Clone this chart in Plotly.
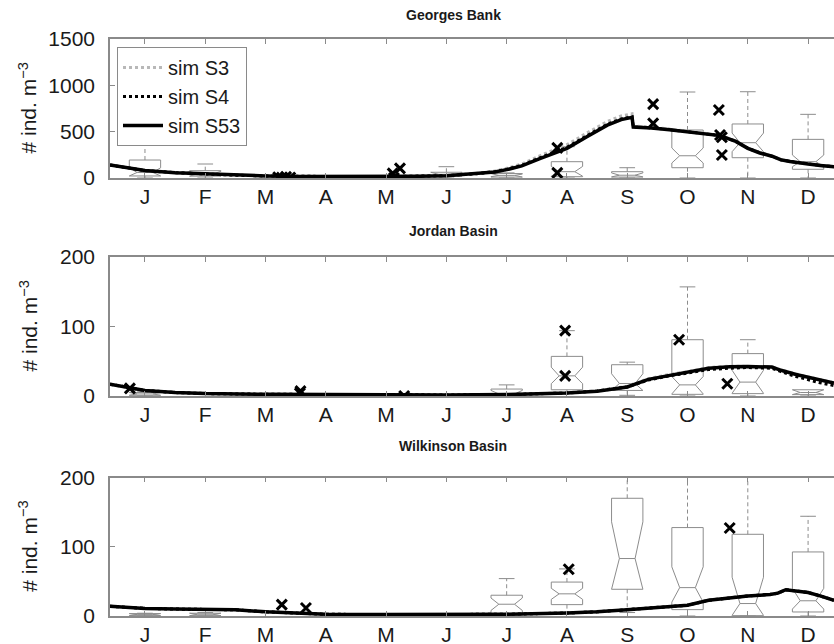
import plotly.graph_objects as go

# ---------------- data ----------------
MONTHS = ["J", "F", "M", "A", "M", "J", "J", "A", "S", "O", "N", "D"]
MONTH_POS = [1, 2, 3, 4, 5, 6, 7, 8, 9, 10, 11, 12]
PANEL_TITLES = ["Georges Bank", "Jordan Basin", "Wilkinson Basin"]
Y_MAX = [1500, 200, 200]
Y_TICKS = [[0, 500, 1000, 1500], [0, 100, 200], [0, 100, 200]]

# Georges Bank simulations (x in months)
gb_x = [0.42, 0.7, 1.0, 1.5, 2.0, 2.5, 3.0, 3.5, 4.0, 4.5, 5.0, 5.5, 6.0, 6.5, 6.8, 7.0, 7.25, 7.55, 7.8, 8.0,
        8.33, 8.67, 8.9, 9.0, 9.08, 9.1, 9.4, 9.7, 10.0, 10.3, 10.5, 10.65, 10.8, 11.0, 11.2, 11.4, 11.55, 11.7,
        11.85, 12.0, 12.2, 12.43]
gb_s3 = [140, 110, 80, 58, 43, 30, 22, 17, 15, 14, 15, 18, 26, 50, 75, 105, 150, 240, 305, 360,
         485, 610, 670, 685, 692, 560, 550, 528, 505, 485, 465, 435, 400, 325, 275, 240, 200, 182,
         163, 153, 138, 123]
gb_s4 = [140, 110, 80, 58, 43, 30, 22, 17, 15, 14, 15, 18, 25, 46, 67, 93, 135, 218, 280, 330,
         455, 580, 638, 652, 660, 552, 542, 522, 502, 482, 462, 432, 397, 322, 272, 237, 197, 180,
         162, 152, 137, 122]
gb_s53 = [140, 110, 80, 58, 43, 30, 22, 17, 15, 14, 15, 18, 25, 45, 65, 90, 130, 210, 270, 320,
          445, 570, 630, 645, 655, 550, 540, 520, 500, 480, 460, 430, 395, 320, 270, 235, 195, 178,
          160, 150, 135, 120]

# Jordan Basin simulations
jb_x = [0.42, 0.7, 1.0, 1.5, 2.0, 3.0, 4.0, 5.0, 6.0, 7.0, 7.5, 8.0, 8.5, 9.0, 9.35, 9.7, 10.0, 10.35, 10.7,
        11.0, 11.4, 11.55, 11.8, 12.0, 12.2, 12.43]
jb_s3 = [17, 13, 8, 5, 3.5, 2.5, 2, 1.5, 1.5, 2, 3, 4.5, 7.5, 14, 25, 31, 35, 41, 43, 43, 42, 37.5, 31.5,
         27.5, 23.5, 19]
jb_s4 = [17, 13, 8, 5, 3.5, 2.5, 2, 1.5, 1.5, 2, 3, 4.3, 7, 13, 23, 29, 33, 38, 40, 41, 40, 35, 28, 23, 19, 15]
jb_s53 = [17, 13, 8, 5, 3.5, 2.5, 2, 1.5, 1.5, 2, 3, 4.3, 7, 13, 24, 30, 34, 40, 42, 42.5, 41.6, 37, 31,
          27, 23, 18.6]

# Wilkinson Basin simulations
wb_x = [0.42, 1.0, 1.5, 2.0, 2.5, 3.0, 3.5, 4.0, 5.0, 6.0, 7.0, 8.0, 8.5, 9.0, 9.5, 10.0, 10.35, 10.7, 11.0,
        11.37, 11.5, 11.63, 11.8, 12.0, 12.2, 12.43]
wb_s3 = [14, 11, 10, 10, 9, 6, 4, 2.5, 2, 2, 2.5, 4.3, 6, 9.2, 12, 15.5, 22.7, 26, 29, 31, 33, 38, 36, 34,
         29, 22.7]
wb_s4 = [14, 11, 10, 10, 9, 6, 4, 2.5, 2, 2, 2.5, 4.3, 6, 9.2, 12, 15.5, 22.7, 26, 29, 31, 33, 38, 36, 34,
         29, 22.7]
wb_s53 = [14, 11, 10, 10, 9, 6, 4, 2.5, 2, 2, 2.5, 4.3, 6, 9.2, 12, 15.5, 22.7, 26, 29, 31, 33, 38, 36, 34,
          29, 22.7]

# Observed monthly box statistics
gb_box_pos = [1, 2, 6, 7, 8, 9, 10, 11, 12]
gb_q1 = [22, 20, 20, 10, 14, 10, 111, 219, 94]
gb_med = [60, 45, 40, 28, 68, 30, 240, 381, 176]
gb_q3 = [194, 79, 62, 48, 176, 68, 518, 583, 417]
gb_lo = [0, 0, 0, 0, 0, 0, 0, 0, 0]
gb_hi = [363, 151, 122, 55, 338, 111, 928, 931, 687]
gb_nlo = [22, 20, 25, 14, 20, 12, 162, 284, 122]
gb_nhi = [110, 72, 55, 42, 125, 55, 324, 485, 248]

jb_box_pos = [1, 7, 8, 9, 10, 11, 12]
jb_q1 = [1, 0.5, 9, 8, 2.4, 3.4, 2]
jb_med = [3, 3, 29, 18, 16, 20, 5]
jb_q3 = [5, 10, 57, 45, 81, 61, 9]
jb_lo = [0, 0, 4, 1, 0, 0, 0]
jb_hi = [6, 16, 94, 48.7, 157, 81, 9]
jb_nlo = [1, 0.5, 17.7, 8, 3, 4, 2]
jb_nhi = [5, 8, 41.5, 32, 28, 37, 9]

wb_box_pos = [1, 2, 7, 8, 9, 10, 11, 12]
wb_q1 = [0.5, 0.5, 1, 16.4, 38.6, 9.2, 0.5, 5.8]
wb_med = [2, 2.5, 17, 32, 83, 41, 18, 22]
wb_q3 = [3.5, 4, 30, 49, 170, 127.7, 118, 92.5]
wb_lo = [0, 0, 0, 3, 5, 0, 0, 0]
wb_hi = [4, 5, 54, 68, 260, 260, 260, 144]
wb_nlo = [0.5, 0.5, 8, 24, 38.6, 20, 1, 10]
wb_nhi = [3.5, 4, 26, 40, 136, 71, 56, 40]

# Individual observations (x markers)
gb_obs_x = [3.21, 3.27, 3.34, 3.41, 5.11, 5.23, 5.13, 7.84, 7.84, 9.43, 9.43, 10.52, 10.54, 10.57, 10.57]
gb_obs_y = [8, 4, 12, 6, 50, 104, 0, 325, 55, 797, 590, 734, 464, 440, 248]
jb_obs_x = [0.75, 3.57, 3.58, 5.30, 7.97, 7.97, 9.86, 10.66]
jb_obs_y = [11, 4, 7, 0, 94, 29, 81, 17.7]
wb_obs_x = [3.27, 3.67, 8.03, 10.7]
wb_obs_y = [16.5, 11.6, 67.5, 127]

# ---------------- figure ----------------
W, H = 834, 644
FONT = "Liberation Sans, Arial, sans-serif"
AXC = "#8a8a8a"
BOXC = "#8c8c8c"
# panel plot-area vertical extents in pixels (top, bottom)
PANEL_PX = [(39, 178), (257, 396), (477.5, 616)]
TITLE_PX = [15, 231, 446]

panels = [
    dict(x=gb_x, s3=gb_s3, s4=gb_s4, s53=gb_s53,
         box=(gb_box_pos, gb_q1, gb_med, gb_q3, gb_lo, gb_hi, gb_nlo, gb_nhi),
         ox=gb_obs_x, oy=gb_obs_y),
    dict(x=jb_x, s3=jb_s3, s4=jb_s4, s53=jb_s53,
         box=(jb_box_pos, jb_q1, jb_med, jb_q3, jb_lo, jb_hi, jb_nlo, jb_nhi),
         ox=jb_obs_x, oy=jb_obs_y),
    dict(x=wb_x, s3=wb_s3, s4=wb_s4, s53=wb_s53,
         box=(wb_box_pos, wb_q1, wb_med, wb_q3, wb_lo, wb_hi, wb_nlo, wb_nhi),
         ox=wb_obs_x, oy=wb_obs_y),
]


def box_paths(pos, q1, med, q3, lo, hi, nlo, nhi, hw=0.26):
    sx, sy, dx, dy = [], [], [], []
    hn = hw * 0.5
    for p, a, m, b, l, h, n1, n2 in zip(pos, q1, med, q3, lo, hi, nlo, nhi):
        sx += [p - hw, p - hw, p - hn, p - hw, p - hw, p + hw, p + hw, p + hn, p + hw, p + hw, p - hw, None]
        sy += [a, n1, m, n2, b, b, n2, m, n1, a, a, None]
        sx += [p - hn, p + hn, None]
        sy += [m, m, None]
        if h > b:
            sx += [p - hw / 2, p + hw / 2, None]
            sy += [h, h, None]
            dx += [p, p, None]
            dy += [b, h, None]
        if l < a:
            sx += [p - hw / 2, p + hw / 2, None]
            sy += [l, l, None]
            dx += [p, p, None]
            dy += [a, l, None]
    return sx, sy, dx, dy


fig = go.Figure()
for i, pnl in enumerate(panels):
    xa = "x" if i == 0 else f"x{i + 1}"
    ya = "y" if i == 0 else f"y{i + 1}"
    sx, sy, dx, dy = box_paths(*pnl["box"])
    fig.add_trace(go.Scatter(x=dx, y=dy, mode="lines", xaxis=xa, yaxis=ya, showlegend=False,
                             line=dict(color=BOXC, width=1, dash="4px,3px"), hoverinfo="skip"))
    fig.add_trace(go.Scatter(x=sx, y=sy, mode="lines", xaxis=xa, yaxis=ya, showlegend=False,
                             line=dict(color=BOXC, width=1), hoverinfo="skip"))
    fig.add_trace(go.Scatter(x=pnl["x"], y=pnl["s3"], mode="lines", name="sim S3", xaxis=xa, yaxis=ya,
                             showlegend=(i == 0), line=dict(color="#b8b8b8", width=3, dash="dot")))
    fig.add_trace(go.Scatter(x=pnl["x"], y=pnl["s4"], mode="lines", name="sim S4", xaxis=xa, yaxis=ya,
                             showlegend=(i == 0), line=dict(color="black", width=3, dash="dot")))
    fig.add_trace(go.Scatter(x=pnl["x"], y=pnl["s53"], mode="lines", name="sim S53", xaxis=xa, yaxis=ya,
                             showlegend=(i == 0), line=dict(color="black", width=3.5)))
    fig.add_trace(go.Scatter(x=pnl["ox"], y=pnl["oy"], mode="markers", xaxis=xa, yaxis=ya, showlegend=False,
                             marker=dict(symbol="x-thin", size=10, line=dict(color="black", width=3))))

layout = dict(
    width=W, height=H, margin=dict(l=110, r=0, t=0, b=0),
    plot_bgcolor="white", paper_bgcolor="white",
    font=dict(family=FONT, size=20, color="#1a1a1a"),
    showlegend=True,
    legend=dict(x=7 / 724, y=1 - 47 / H, xanchor="left", yanchor="top",
                bordercolor=AXC, borderwidth=1, bgcolor="white",
                font=dict(size=20, family=FONT), tracegroupgap=0, itemwidth=40),
    annotations=[],
)
for i in range(3):
    sfx = "" if i == 0 else str(i + 1)
    top, bot = PANEL_PX[i]
    layout["xaxis" + sfx] = dict(
        domain=[0, 1], range=[0.42, 12.43], anchor="y" + sfx, automargin=False,
        tickvals=MONTH_POS, ticktext=MONTHS, ticks="inside", ticklen=5, tickcolor=AXC,
        showline=True, linecolor=AXC, linewidth=1.5, mirror="ticks", showgrid=False, zeroline=False,
        tickfont=dict(size=21), ticklabelstandoff=-1,
    )
    layout["yaxis" + sfx] = dict(
        domain=[1 - bot / H, 1 - top / H], range=[0, Y_MAX[i]], anchor="x" + sfx, automargin=False,
        tickvals=Y_TICKS[i], ticks="inside", ticklen=5, tickcolor=AXC,
        showline=True, linecolor=AXC, linewidth=1.5, mirror=False, showgrid=False, zeroline=False,
        tickfont=dict(size=21), ticklabelstandoff=9,
    )
    layout["annotations"].append(dict(
        text="<b>" + PANEL_TITLES[i] + "</b>", xref="paper", yref="paper",
        x=(453 - 110) / 724, y=1 - TITLE_PX[i] / H, xanchor="center", yanchor="middle",
        showarrow=False, font=dict(size=14, family=FONT, color="#1a1a1a")))
    layout["annotations"].append(dict(
        text="# ind. m<sup>−3</sup>", xref="paper", yref="paper",
        x=(28 - 110) / 724, y=1 - (top + bot) / 2 / H, xanchor="center", yanchor="middle",
        textangle=-90, showarrow=False, font=dict(size=21, family=FONT, color="#1a1a1a")))

fig.update_layout(**layout)
fig.write_html("out.html", config={"displayModeBar": False},
               post_script="document.body.style.margin='0px';document.body.style.padding='0px';")
